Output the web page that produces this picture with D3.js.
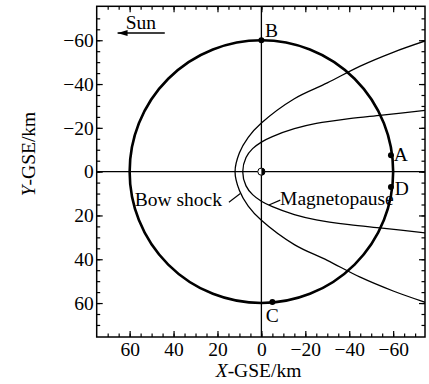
<!DOCTYPE html>
<html><head><meta charset="utf-8">
<script src="https://cdn.jsdelivr.net/npm/d3@7"></script>
<style>
body{margin:0;background:#fff}
svg{display:block}
text{font-family:"Liberation Serif","Times New Roman",serif;fill:#000}
</style>
</head><body>
<svg id="c" width="429" height="384"></svg>
<script>
// ---- data (GSE km) ----
const xTickLabels = [60, 40, 20, 0, -20, -40, -60];
const yTickLabels = [-60, -40, -20, 0, 20, 40, 60];
const circleRadius = 60;
const bowShockX = [-75, -60, -45, -30, -15, 0, 6, 10, 12, 10, 6, 0, -15, -30, -45, -60, -75];
const bowShockY = [-59.8, -54.5, -48.2, -40.5, -33.3, -22.2, -15.7, -8.6, 0, 8.6, 15.7, 22.2, 33.3, 40.5, 48.2, 54.5, 59.8];
const magnetopauseX = [-75, -55, -40, -25, -15, -5, 0, 4, 7, 8.5, 7, 4, 0, -5, -15, -25, -40, -55, -75];
const magnetopauseY = [-28, -25.8, -24.2, -22, -19.6, -16, -13.5, -10.5, -6.5, 0, 6.5, 10.5, 13.5, 16, 19.6, 22, 24.2, 25.8, 28];
const pointNames = ["A", "B", "C", "D"];
const pointX = [-59, 0, -5, -59];
const pointY = [-7.5, -60, 59.5, 7];

// ---- layout ----
const svg = d3.select("#c");
const L = 96.7, R = 425, T = 6.3, B = 337;
const x = d3.scaleLinear().domain([75, -74.5]).range([L, R]);
const y = d3.scaleLinear().domain([-75.5, 75.5]).range([T, B]);
const FS = 19.5;

const defs = svg.append("defs");
defs.append("clipPath").attr("id", "cp").append("rect")
  .attr("x", L).attr("y", T).attr("width", R - L).attr("height", B - T);
defs.append("marker").attr("id", "ah").attr("viewBox", "0 0 10 6")
  .attr("refX", 10).attr("refY", 3).attr("markerWidth", 10).attr("markerHeight", 6)
  .attr("markerUnits", "userSpaceOnUse").attr("orient", "auto")
  .append("path").attr("d", "M0,0 L10,3 L0,6 Z").attr("fill", "#000");

const plot = svg.append("g").attr("clip-path", "url(#cp)");

// center lines
plot.append("line").attr("x1", L).attr("x2", R).attr("y1", y(0)).attr("y2", y(0))
  .attr("stroke", "#000").attr("stroke-width", 1.3);
plot.append("line").attr("x1", x(0)).attr("x2", x(0)).attr("y1", T).attr("y2", B)
  .attr("stroke", "#000").attr("stroke-width", 1.3);

// circle
plot.append("ellipse").attr("cx", x(0)).attr("cy", y(0))
  .attr("rx", Math.abs(x(circleRadius) - x(0))).attr("ry", Math.abs(y(circleRadius) - y(0)))
  .attr("fill", "none").attr("stroke", "#000").attr("stroke-width", 2.6);

const line = d3.line().x(d => x(d[0])).y(d => y(d[1])).curve(d3.curveCatmullRom);
plot.append("path").attr("d", line(d3.zip(bowShockX, bowShockY)))
  .attr("fill", "none").attr("stroke", "#000").attr("stroke-width", 1.3);
plot.append("path").attr("d", line(d3.zip(magnetopauseX, magnetopauseY)))
  .attr("fill", "none").attr("stroke", "#000").attr("stroke-width", 1.3);

// origin marker (half filled)
const ox = x(0), oy = y(0), orad = 3.6;
svg.append("circle").attr("cx", ox).attr("cy", oy).attr("r", orad).attr("fill", "#fff").attr("stroke", "#000").attr("stroke-width", 1);
svg.append("path").attr("d", `M${ox},${oy - orad} A${orad},${orad} 0 0 1 ${ox},${oy + orad} Z`).attr("fill", "#000");

// points
const pts = pointNames.map((n, i) => ({n, x: pointX[i], y: pointY[i]}));
svg.selectAll(".pt").data(pts).join("circle").attr("class", "pt")
  .attr("cx", d => x(d.x)).attr("cy", d => y(d.y)).attr("r", 3).attr("fill", "#000");
const off = {A: [2.7, 6, "start"], B: [3.7, -3.7, "start"], C: [0, 20, "middle"], D: [3.7, 7.7, "start"]};
svg.selectAll(".pl").data(pts).join("text").attr("class", "pl")
  .attr("x", d => x(d.x) + off[d.n][0]).attr("y", d => y(d.y) + off[d.n][1])
  .attr("text-anchor", d => off[d.n][2]).attr("font-size", FS).text(d => d.n);

// axes
const minor = d3.range(-70, 71, 5);
function ax(axisFn, scale, vals, size, labels) {
  return axisFn(scale).tickValues(vals).tickSizeInner(-size).tickSizeOuter(0)
    .tickPadding(labels ? 3 : 0).tickFormat(labels ? (d => d === 0 ? "0" : d3.format("")(d)) : "");
}
const gB1 = svg.append("g").attr("transform", `translate(0,${B})`).call(ax(d3.axisBottom, x, minor, 3.5, false));
const gB2 = svg.append("g").attr("transform", `translate(0,${B})`).call(ax(d3.axisBottom, x, xTickLabels, 6, true));
const gT1 = svg.append("g").attr("transform", `translate(0,${T})`).call(ax(d3.axisTop, x, minor, 3.5, false));
const gT2 = svg.append("g").attr("transform", `translate(0,${T})`).call(ax(d3.axisTop, x, xTickLabels, 6, false));
const gL1 = svg.append("g").attr("transform", `translate(${L},0)`).call(ax(d3.axisLeft, y, minor, 3.5, false));
const gL2 = svg.append("g").attr("transform", `translate(${L},0)`).call(ax(d3.axisLeft, y, yTickLabels, 6, true));
const gR1 = svg.append("g").attr("transform", `translate(${R},0)`).call(ax(d3.axisRight, y, minor, 3.5, false));
const gR2 = svg.append("g").attr("transform", `translate(${R},0)`).call(ax(d3.axisRight, y, yTickLabels, 6, false));
svg.selectAll(".domain").remove();
svg.selectAll("g").attr("font-family", null).attr("font-size", null);
svg.selectAll(".tick line").attr("stroke", "#000").attr("stroke-width", 1.2);
svg.selectAll(".tick text").attr("font-size", FS).attr("fill", "#000");
gB2.selectAll(".tick text").attr("dy", null).attr("y", 19);

// frame
svg.append("rect").attr("x", L).attr("y", T).attr("width", R - L).attr("height", B - T)
  .attr("fill", "none").attr("stroke", "#000").attr("stroke-width", 1.5);

// Sun arrow
const sunY = -63.3;
svg.append("line").attr("x1", x(44)).attr("x2", x(65.5)).attr("y1", y(sunY)).attr("y2", y(sunY))
  .attr("stroke", "#000").attr("stroke-width", 1.3).attr("marker-end", "url(#ah)");
svg.append("text").attr("x", x(61.8)).attr("y", y(sunY) - 4.3).attr("font-size", FS).text("Sun");

// annotation labels
svg.append("text").attr("x", x(57.7)).attr("y", y(15.9)).attr("font-size", FS).text("Bow shock");
svg.append("line").attr("x1", x(14.8)).attr("y1", y(14)).attr("x2", x(9.6)).attr("y2", y(10))
  .attr("stroke", "#000").attr("stroke-width", 1.1);
svg.append("text").attr("x", x(-8.5)).attr("y", y(15.2)).attr("font-size", FS).text("Magnetopause");
svg.append("line").attr("x1", x(-3.4)).attr("y1", y(15.2)).attr("x2", x(-8.6)).attr("y2", y(13))
  .attr("stroke", "#000").attr("stroke-width", 1.1);

// axis titles
const xt = svg.append("text").attr("x", 258.5).attr("y", 377).attr("text-anchor", "middle").attr("font-size", FS);
xt.append("tspan").attr("font-style", "italic").text("X");
xt.append("tspan").text("-GSE/km");
const yt = svg.append("text").attr("transform", "translate(35,154) rotate(-90)").attr("text-anchor", "middle").attr("font-size", FS);
yt.append("tspan").attr("font-style", "italic").text("Y");
yt.append("tspan").text("-GSE/km");
</script>
</body></html>
